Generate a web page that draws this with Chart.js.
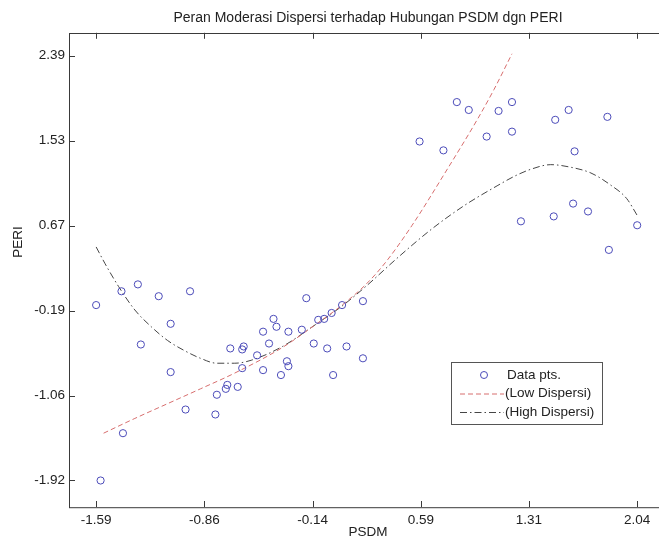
<!DOCTYPE html>
<html>
<head>
<meta charset="utf-8">
<title>Peran Moderasi Dispersi</title>
<script src="https://cdn.jsdelivr.net/npm/chart.js@4.4.1/dist/chart.umd.min.js"></script>
<style>
  html, body { margin: 0; padding: 0; background: #fff; overflow: hidden; }
  #wrap { width: 672px; height: 540px; }
</style>
</head>
<body>
<div id="wrap"><canvas id="myChart" width="672" height="540"></canvas></div>
<script>
// data points (PSDM vs PERI)
const psdm = [-1.59, -1.42, -1.31, -1.17, -0.96, -1.09, -1.29, -1.09, -0.99, -1.41, -1.56, -0.79, -0.78, -0.72, -0.71,
  -0.64, -0.69, -0.61, -0.6, -0.61, -0.51, -0.47, -0.43, -0.47, -0.4, -0.38, -0.3, -0.31, -0.3, -0.35,
  -0.21, -0.18, -0.1, -0.06, -0.01, -0.13, -0.04, 0.0, 0.06, 0.09, 0.2, 0.2, 0.58, 0.74, 0.83,
  0.91, 1.03, 1.11, 1.2, 1.2, 1.49, 1.58, 1.84, 1.62, 1.26, 1.48, 1.61, 1.71, 2.04, 1.85]
const peri = [-0.14, 0.0, 0.07, -0.05, 0.0, -0.33, -0.54, -0.82, -1.2, -1.44, -1.92, -1.25, -1.05, -0.99, -0.95,
  -0.97, -0.58, -0.59, -0.56, -0.78, -0.65, -0.41, -0.53, -0.8, -0.28, -0.36, -0.41, -0.71, -0.76, -0.85,
  -0.39, -0.07, -0.29, -0.28, -0.22, -0.53, -0.58, -0.85, -0.14, -0.56, -0.1, -0.68, 1.52, 1.43, 1.92,
  1.84, 1.57, 1.83, 1.92, 1.62, 1.74, 1.84, 1.77, 1.42, 0.71, 0.76, 0.89, 0.81, 0.67, 0.42]

// fitted curve, low dispersion
const lowX = [-1.54, -1.33, -1.11, -0.89, -0.66, -0.34, -0.12, 0.06, 0.22, 0.35, 0.53, 0.75, 0.97, 1.08, 1.2]
const lowY = [-1.44, -1.29, -1.14, -0.99, -0.83, -0.57, -0.34, -0.14, 0.07, 0.29, 0.67, 1.2, 1.75, 2.05, 2.41]

// fitted curve, high dispersion
const highX = [-1.59, -1.53, -1.44, -1.33, -1.22, -1.11, -1.0, -0.89, -0.78, -0.66, -0.55, -0.34, -0.12, 0.06,
  0.22, 0.44, 0.66, 0.88, 1.1, 1.22, 1.33, 1.46, 1.59, 1.73, 1.86, 1.97, 2.04]
const highY = [0.45, 0.28, 0.05, -0.19, -0.36, -0.5, -0.6, -0.68, -0.73, -0.73, -0.7, -0.56, -0.34, -0.15,
  0.05, 0.35, 0.63, 0.87, 1.07, 1.17, 1.24, 1.285, 1.26, 1.2, 1.08, 0.94, 0.77]

// axis ticks
const xTickValues = [-1.59, -0.864, -0.138, 0.588, 1.314, 2.04]
const xTickLabels = ["-1.59", "-0.86", "-0.14", "0.59", "1.31", "2.04"]
const yTickValues = [-1.92, -1.058, -0.196, 0.666, 1.528, 2.39]
const yTickLabels = ["-1.92", "-1.06", "-0.19", "0.67", "1.53", "2.39"]

const axisColor = "#3a3a3a"
const textColor = "#222"
const fontFamily = "'Liberation Sans', Arial, sans-serif"

const toPoints = (xs, ys) => xs.map((x, i) => ({ x: x, y: ys[i] }))

// box round the axes with MATLAB-style inward ticks
const frameTicks = {
  id: "frameTicks",
  afterDatasetsDraw(chart) {
    const { ctx, chartArea: a, scales } = chart
    ctx.save()
    ctx.strokeStyle = axisColor
    ctx.lineWidth = 1
    ctx.strokeRect(Math.round(a.left) + 0.5, Math.round(a.top) + 0.5, a.right - a.left, a.bottom - a.top)
    ctx.beginPath()
    scales.x.ticks.forEach(t => {
      const px = Math.round(scales.x.getPixelForValue(t.value)) + 0.5
      ctx.moveTo(px, a.bottom); ctx.lineTo(px, a.bottom - 6)
      ctx.moveTo(px, a.top); ctx.lineTo(px, a.top + 6)
    })
    scales.y.ticks.forEach(t => {
      const py = Math.round(scales.y.getPixelForValue(t.value)) + 0.5
      ctx.moveTo(a.left, py); ctx.lineTo(a.left + 6, py)
      ctx.moveTo(a.right, py); ctx.lineTo(a.right - 6, py)
    })
    ctx.stroke()

    // y axis label sits a bit above the middle in the original
    ctx.fillStyle = textColor
    ctx.font = "13.5px " + fontFamily
    ctx.textAlign = "center"
    ctx.textBaseline = "middle"
    ctx.translate(18, 242)
    ctx.rotate(-Math.PI / 2)
    ctx.fillText("PERI", 0, 0)
    ctx.restore()
  },
}

// legend box in the lower right of the axes
const boxLegend = {
  id: "boxLegend",
  afterDraw(chart) {
    const { ctx, chartArea: a } = chart
    const left = a.right - 216, top = a.bottom - 145, w = 151, h = 62
    const rows = [top + 13, top + 31.5, top + 50]
    ctx.save()
    ctx.fillStyle = "#fff"
    ctx.fillRect(left, top, w, h)
    ctx.strokeStyle = "#555"
    ctx.lineWidth = 1
    ctx.strokeRect(left + 0.5, top + 0.5, w, h)
    ctx.font = "13.5px " + fontFamily
    ctx.textBaseline = "middle"
    ctx.textAlign = "left"
    chart.data.datasets.forEach((ds, i) => {
      const y = rows[i]
      ctx.strokeStyle = ds.borderColor
      ctx.lineWidth = 1
      if (i === 0) {
        ctx.beginPath()
        ctx.arc(left + 33, y, 3.5, 0, Math.PI * 2)
        ctx.stroke()
      } else {
        ctx.setLineDash(ds.borderDash)
        ctx.beginPath()
        ctx.moveTo(left + 9, y + 0.5)
        ctx.lineTo(left + 53, y + 0.5)
        ctx.stroke()
        ctx.setLineDash([])
      }
      ctx.fillStyle = textColor
      ctx.fillText(ds.label, left + (i === 0 ? 56 : 54), y)
    })
    ctx.restore()
  },
}

const data = {
  datasets: [
    {
      label: "Data pts.",
      data: toPoints(psdm, peri),
      borderColor: "rgb(75, 75, 185)",
      backgroundColor: "rgba(0,0,0,0)",
      pointRadius: 3.6,
      pointBorderWidth: 1,
      showLine: false,
    },
    {
      label: "(Low Dispersi)",
      data: toPoints(lowX, lowY),
      borderColor: "rgb(215, 110, 110)",
      borderWidth: 1,
      borderDash: [5, 3],
      pointRadius: 0,
      showLine: true,
      cubicInterpolationMode: "monotone",
    },
    {
      label: "(High Dispersi)",
      data: toPoints(highX, highY),
      borderColor: "rgb(70, 70, 70)",
      borderWidth: 1,
      borderDash: [7, 3, 1.5, 3],
      pointRadius: 0,
      showLine: true,
      cubicInterpolationMode: "monotone",
    },
  ],
}

const config = {
  type: "scatter",
  data: data,
  plugins: [frameTicks, boxLegend],
  options: {
    responsive: false,
    animation: false,
    devicePixelRatio: 1,
    layout: { padding: { left: 0, right: 2, top: 0, bottom: 0 } },
    plugins: {
      legend: { display: false },
      tooltip: { enabled: false },
      title: {
        display: true,
        fullSize: false,
        text: "Peran Moderasi Dispersi terhadap Hubungan PSDM dgn PERI",
        color: textColor,
        font: { family: fontFamily, size: 14, weight: "normal", lineHeight: 1.2 },
        padding: { top: 10, bottom: 6 },
      },
    },
    scales: {
      x: {
        type: "linear",
        min: -1.772,
        max: 2.24,
        afterFit: s => { s.height = 33 },
        afterBuildTicks: s => { s.ticks = xTickValues.map(v => ({ value: v })) },
        grid: { display: false, drawTicks: false },
        border: { display: false },
        ticks: {
          color: textColor,
          padding: 5,
          maxRotation: 0,
          autoSkip: false,
          font: { family: fontFamily, size: 13.5 },
          callback: (v, i) => xTickLabels[i],
        },
        title: {
          display: true,
          text: "PSDM",
          color: textColor,
          font: { family: fontFamily, size: 13.5, lineHeight: 1.2 },
          padding: { top: 0, bottom: 0 },
        },
      },
      y: {
        type: "linear",
        min: -2.189,
        max: 2.623,
        afterFit: s => { s.width = 69 },
        afterBuildTicks: s => { s.ticks = yTickValues.map(v => ({ value: v })) },
        grid: { display: false, drawTicks: false },
        border: { display: false },
        ticks: {
          color: textColor,
          padding: 4,
          autoSkip: false,
          font: { family: fontFamily, size: 13.5 },
          callback: (v, i) => yTickLabels[i],
        },
      },
    },
  },
}

const myChart = new Chart(document.getElementById("myChart"), config)
</script>
</body>
</html>
